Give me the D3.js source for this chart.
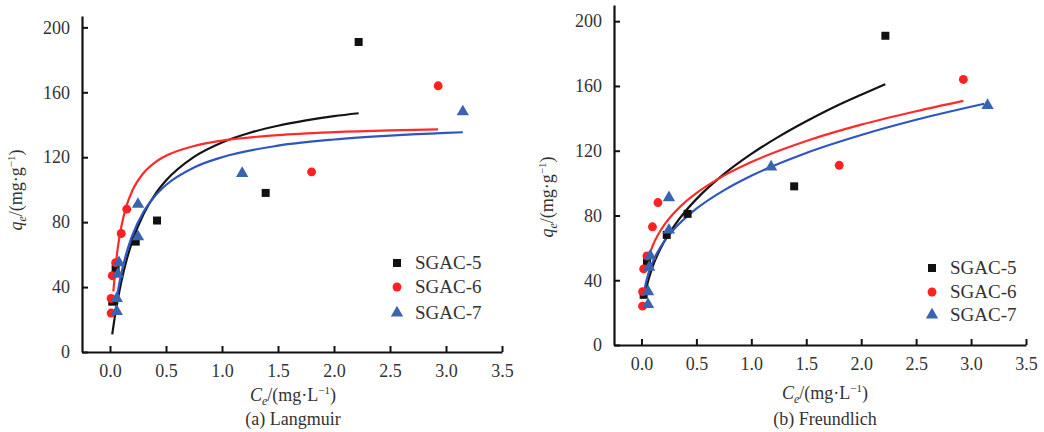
<!DOCTYPE html>
<html>
<head>
<meta charset="utf-8">
<script src="https://cdn.jsdelivr.net/npm/d3@7"></script>
<style>
  body { margin: 0; background: #fff; }
</style>
</head>
<body>
<svg id="chart" width="1044" height="432" font-family="'Liberation Serif', 'Times New Roman', Times, 'DejaVu Serif', serif"></svg>
<script>
// series names and tick labels
var seriesNames = ["SGAC-5", "SGAC-6", "SGAC-7"];
var xTicks = [0.0, 0.5, 1.0, 1.5, 2.0, 2.5, 3.0, 3.5];
var yTicks = [0, 40, 80, 120, 160, 200];

// measured points [Ce, qe]
var sgac5 = [[0.02, 31], [0.05, 51], [0.23, 68], [0.42, 81], [1.39, 98], [2.22, 191]];
var sgac6 = [[0.01, 24], [0.01, 33], [0.02, 47], [0.05, 55], [0.10, 73], [0.15, 88], [1.80, 111], [2.93, 164]];
var sgac7 = [[0.06, 25], [0.06, 33], [0.07, 48], [0.08, 55], [0.25, 71], [0.25, 91], [1.18, 110], [3.15, 148]];

// fitted curves
var lang5 = [[0.02, 10.9], [0.05, 24.7], [0.1, 43.0], [0.15, 57.1], [0.2, 68.4], [0.3, 85.0], [0.4, 96.8], [0.5, 105.6],
  [0.75, 120.2], [1.0, 129.1], [1.25, 135.1], [1.5, 139.4], [1.75, 142.7], [2.0, 145.3], [2.22, 147.1]];
var lang6 = [[0.03, 37.3], [0.05, 52.9], [0.075, 66.8], [0.1, 76.9], [0.15, 90.6], [0.2, 99.5], [0.3, 110.3], [0.4, 116.7],
  [0.5, 120.9], [0.75, 126.9], [1.0, 130.2], [1.5, 133.6], [2.0, 135.4], [2.5, 136.5], [2.93, 137.1]];
var lang7 = [[0.06, 33.2], [0.1, 48.0], [0.15, 61.7], [0.2, 72.0], [0.3, 86.4], [0.4, 96.0], [0.5, 102.9], [0.75, 113.7],
  [1.0, 120.0], [1.5, 127.1], [2.0, 130.9], [2.5, 133.3], [3.0, 135.0], [3.15, 135.4]];

// fitted curves
var freu5 = [[0.03, 30.0], [0.05, 36.7], [0.1, 48.1], [0.15, 56.3], [0.2, 63.0], [0.3, 73.8], [0.4, 82.6], [0.5, 90.1],
  [0.75, 105.5], [1.0, 118.0], [1.25, 128.7], [1.5, 138.2], [1.75, 146.9], [2.0, 154.6], [2.22, 161.1]];
var freu6 = [[0.04, 47.7], [0.05, 50.6], [0.1, 61.0], [0.15, 68.0], [0.2, 73.4], [0.3, 81.8], [0.4, 88.4], [0.5, 93.8],
  [0.75, 104.6], [1.0, 113.0], [1.5, 126.0], [2.0, 136.1], [2.5, 144.4], [2.93, 150.8]];
var freu7 = [[0.03, 35.0], [0.05, 41.0], [0.1, 50.9], [0.15, 57.8], [0.2, 63.3], [0.3, 71.8], [0.4, 78.5], [0.5, 84.2],
  [0.75, 95.5], [1.0, 104.5], [1.5, 118.6], [2.0, 129.7], [2.5, 139.1], [3.12, 149.0]];

var markerColors = ["#111", "#ff2020", "#3a64b0"];
var lineColors = ["#141414", "#ff2a2a", "#2f55c0"];
var shapes = [d3.symbolSquare, d3.symbolCircle, d3.symbolTriangle];
var sizes = [64, 62, 66];
var serif = "'Liberation Serif', 'Times New Roman', Times, 'DejaVu Serif', serif";

var svg = d3.select("#chart");

var panels = [
  { x0: 82, x1: 502, y0: 352, y1: 16, yMax: 207, curves: [lang5, lang6, lang7],
    legX: 397, legY: [263, 287, 313], yLabX: 22, yLabY: 190, capX: 293, capT: "(a) Langmuir", capY: [401, 425] },
  { x0: 614, x1: 1026, y0: 345, y1: 5, yMax: 210, curves: [freu5, freu6, freu7],
    legX: 932, legY: [268, 292, 315], yLabX: 553, yLabY: 197, capX: 825, capT: "(b) Freundlich", capY: [399, 425] }
];

var points = [sgac5, sgac6, sgac7];

panels.forEach(function(p) {
  var x = d3.scaleLinear().domain([-0.25, 3.5]).range([p.x0, p.x1]);
  var y = d3.scaleLinear().domain([0, p.yMax]).range([p.y0, p.y1]);
  var g = svg.append("g");

  // axes with ticks pointing inward
  var xAxis = g.append("g")
    .attr("transform", "translate(0," + p.y0 + ")")
    .call(d3.axisBottom(x).tickValues(xTicks).tickFormat(d3.format(".1f")).tickSizeInner(-6).tickSizeOuter(0).tickPadding(12));
  var yAxis = g.append("g")
    .attr("transform", "translate(" + p.x0 + ",0)")
    .call(d3.axisLeft(y).tickValues(yTicks).tickSizeInner(-6).tickSizeOuter(0).tickPadding(12));

  [xAxis, yAxis].forEach(function(a) {
    a.attr("font-family", serif).attr("font-size", 18);
    a.select(".domain").attr("stroke", "#111").attr("stroke-width", 2.2);
    a.selectAll(".tick line").attr("stroke", "#111").attr("stroke-width", 2);
    a.selectAll(".tick text").attr("fill", "#333");
  });

  // fitted curves
  var line = d3.line()
    .x(function(d) { return x(d[0]); })
    .y(function(d) { return y(d[1]); })
    .curve(d3.curveMonotoneX);

  p.curves.forEach(function(c, i) {
    g.append("path")
      .attr("d", line(c))
      .attr("fill", "none")
      .attr("stroke", lineColors[i])
      .attr("stroke-width", 2.2);
  });

  // measured points
  points.forEach(function(pts, i) {
    g.selectAll(".pt" + i)
      .data(pts)
      .enter().append("path")
        .attr("d", d3.symbol().type(shapes[i]).size(sizes[i]))
        .attr("transform", function(d) { return "translate(" + x(d[0]) + "," + y(d[1]) + ")"; })
        .attr("fill", markerColors[i]);
  });

  // legend
  seriesNames.forEach(function(name, i) {
    g.append("path")
      .attr("d", d3.symbol().type(shapes[i]).size(sizes[i]))
      .attr("transform", "translate(" + p.legX + "," + p.legY[i] + ")")
      .attr("fill", markerColors[i]);
    g.append("text")
      .attr("x", p.legX + 18)
      .attr("y", p.legY[i] + 6)
      .attr("font-family", serif)
      .attr("font-size", 19)
      .attr("fill", "#333")
      .text(name);
  });

  // x-axis title  Ce/(mg·L⁻¹)
  var xt = g.append("text")
    .attr("x", p.capX)
    .attr("y", p.capY[0])
    .attr("text-anchor", "middle")
    .attr("font-family", serif)
    .attr("fill", "#333")
    .attr("font-size", 18);
  xt.append("tspan").attr("font-style", "italic").text("C");
  xt.append("tspan").attr("font-size", 12).attr("font-style", "italic").attr("dy", 4).text("e");
  xt.append("tspan").attr("dy", -4).text("/(mg·L");
  xt.append("tspan").attr("font-size", 11).attr("dy", -7).text("−1");
  xt.append("tspan").attr("dy", 7).text(")");

  g.append("text")
    .attr("x", p.capX)
    .attr("y", p.capY[1])
    .attr("text-anchor", "middle")
    .attr("font-family", serif)
    .attr("fill", "#333")
    .attr("font-size", 18)
    .text(p.capT);

  // y-axis title  qe/(mg·g⁻¹)
  var yt = g.append("text")
    .attr("transform", "translate(" + p.yLabX + "," + p.yLabY + ") rotate(-90)")
    .attr("text-anchor", "middle")
    .attr("font-family", serif)
    .attr("fill", "#333")
    .attr("font-size", 18);
  yt.append("tspan").attr("font-style", "italic").text("q");
  yt.append("tspan").attr("font-size", 12).attr("font-style", "italic").attr("dy", 4).text("e");
  yt.append("tspan").attr("dy", -4).text("/(mg·g");
  yt.append("tspan").attr("font-size", 11).attr("dy", -7).text("−1");
  yt.append("tspan").attr("dy", 7).text(")");
});
</script>
</body>
</html>
